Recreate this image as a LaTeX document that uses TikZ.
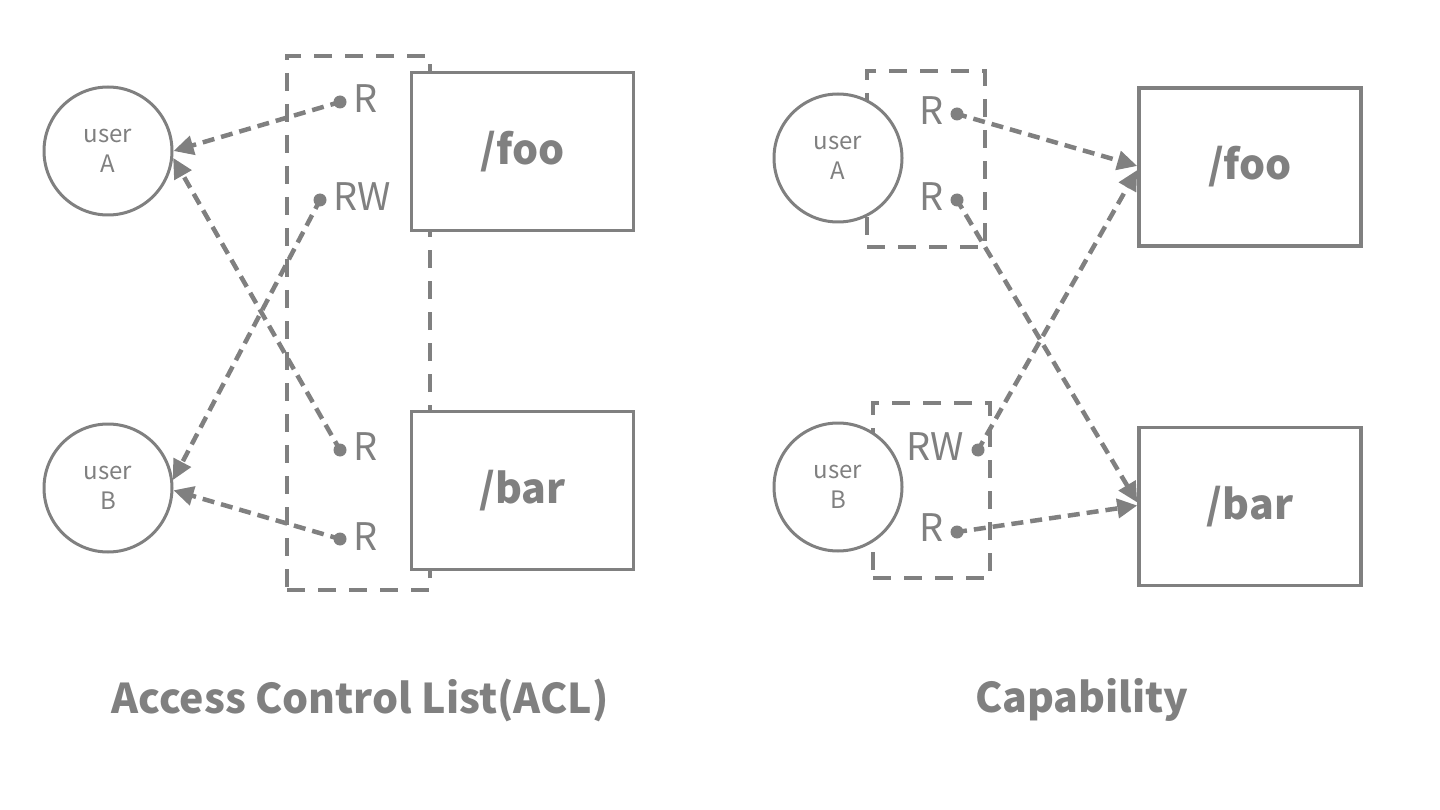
\documentclass[tikz,border=0pt]{standalone}
\usepackage{fontspec}
\setmainfont{Noto Sans CJK JP}
\usetikzlibrary{arrows.meta}
\definecolor{g}{RGB}{128,128,128}
\begin{document}
\begin{tikzpicture}[x=1pt,y=-1pt,
  usr/.style={circle,draw=g,fill=white,line width=3pt,minimum size=128pt,inner sep=0pt,align=center,font=\fontsize{24}{30}\selectfont,text=g},
  objbox/.style={draw=g,fill=white,line width=3.5pt,minimum width=222pt,minimum height=158pt,inner sep=0pt,font=\fontsize{41}{48}\selectfont\bfseries,text=g},
  grp/.style={draw=g,line width=3.5pt,dash pattern=on 18pt off 13pt,inner sep=0pt},
  pt/.style={circle,fill=g,minimum size=13pt,inner sep=0pt},
  perm/.style={font=\fontsize{38}{40}\selectfont,text=g,inner sep=0pt,anchor=west},
  arr/.style={draw=g,line width=4.5pt,dash pattern=on 12pt off 7pt,-{Triangle[length=20pt,width=19pt]},shorten <=-2pt},
  ttl/.style={font=\fontsize{41}{50}\selectfont\bfseries,text=g,inner sep=0pt}
]
\useasboundingbox (0,0) rectangle (1440,810);
% groups
\node[grp,minimum width=143pt,minimum height=534pt] (aclgrp) at (358.5,323) {};
\node[grp,minimum width=118pt,minimum height=176pt] (capA) at (926,159) {};
\node[grp,minimum width=117pt,minimum height=175pt] (capB) at (931.5,490.5) {};
% users
\node[usr] (lA) at (108,151) {user\\A};
\node[usr] (lB) at (108,488) {user\\B};
\node[usr] (rA) at (838,158) {user\\A};
\node[usr] (rB) at (838,487) {user\\B};
% objects
\node[objbox] (lfoo) at (522.5,151.5) {/foo};
\node[objbox] (lbar) at (522.5,490.5) {/bar};
\node[objbox] (rfoo) at (1250,167) {/foo};
\node[objbox] (rbar) at (1250,506.5) {/bar};
% permission dots
\node[pt] (d1) at (340,102) {};
\node[pt] (d2) at (320,200) {};
\node[pt] (d3) at (340,450) {};
\node[pt] (d4) at (340,539) {};
\node[pt] (e1) at (957,114) {};
\node[pt] (e2) at (957,200) {};
\node[pt] (e3) at (978,450) {};
\node[pt] (e4) at (957,532) {};
% permission labels
\node[perm] (t1) at (353,99) {R};
\node[perm] (t2) at (333,197) {RW};
\node[perm] (t3) at (353,447) {R};
\node[perm] (t4) at (353,537) {R};
\node[perm,anchor=east] (u1) at (944,111) {R};
\node[perm,anchor=east] (u2) at (944,197) {R};
\node[perm,anchor=east] (u3) at (964,447) {RW};
\node[perm,anchor=east] (u4) at (944,528) {R};
% arrows
\draw[arr] (d1.center) -- (lA.0);
\draw[arr] (d3.center) -- (lA.-6);
\draw[arr] (d2.center) -- (lB.7);
\draw[arr] (d4.center) -- (lB.-2);
\draw[arr] (e1.center) -- ([yshift=1pt]rfoo.west);
\draw[arr] (e3.center) -- ([yshift=-3pt]rfoo.west);
\draw[arr] (e2.center) -- ([yshift=4pt]rbar.west);
\draw[arr] (e4.center) -- ([yshift=1pt]rbar.west);
% titles
\node[ttl] (t-acl) at (360,700) {Access Control List(ACL)};
\node[ttl] (t-cap) at (1082,700) {Capability};
\end{tikzpicture}
\end{document}
